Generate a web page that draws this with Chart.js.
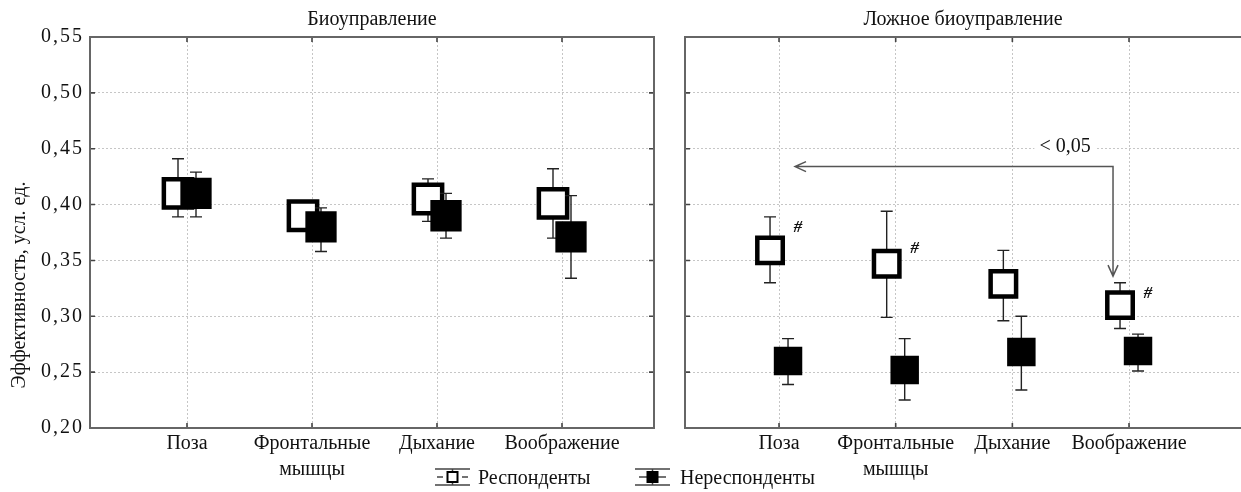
<!DOCTYPE html>
<html><head><meta charset="utf-8">
<script src="https://cdn.jsdelivr.net/npm/chart.js@4/dist/chart.umd.min.js"></script>
<style>
html,body{margin:0;padding:0;background:#fff;overflow:hidden;width:1241px;height:492px;}
canvas{position:absolute;left:0;top:0;}
</style></head><body>
<canvas id="bio" width="1260" height="492"></canvas>
<canvas id="sham" width="1260" height="492"></canvas>
<script>
// ---------- data ----------
const categories = [['Поза'], ['Фронтальные', 'мышцы'], ['Дыхание'], ['Воображение']];
const panelTitles = ['Биоуправление', 'Ложное биоуправление'];
const yAxisTitle = 'Эффективность, усл. ед.';
const seriesNames = ['Респонденты', 'Нереспонденты'];
const yTickValues = [0.20, 0.25, 0.30, 0.35, 0.40, 0.45, 0.50, 0.55];
const yTickLabels = ['0,20', '0,25', '0,30', '0,35', '0,40', '0,45', '0,50', '0,55'];

// Биоуправление
const bioResp     = [0.410, 0.390, 0.405, 0.401];
const bioRespLow  = [0.389, 0.380, 0.385, 0.370];
const bioRespHigh = [0.441, 0.400, 0.423, 0.432];
const bioNon      = [0.410, 0.380, 0.390, 0.371];
const bioNonLow   = [0.389, 0.358, 0.370, 0.334];
const bioNonHigh  = [0.429, 0.397, 0.410, 0.408];

// Ложное биоуправление
const shamResp     = [0.359, 0.347, 0.329, 0.310];
const shamRespLow  = [0.330, 0.299, 0.296, 0.289];
const shamRespHigh = [0.389, 0.394, 0.359, 0.330];
const shamNon      = [0.260, 0.252, 0.268, 0.269];
const shamNonLow   = [0.239, 0.225, 0.234, 0.251];
const shamNonHigh  = [0.280, 0.280, 0.300, 0.284];

// annotations (right panel)
const hashMark = '#';
const hashLevels = [0.379, 0.361, null, 0.320];
const sigLabel = '< 0,05';
const sigFrom = 0, sigTo = 3;
const sigLevel = 0.434, sigTipLevel = 0.336, sigLabelLevel = 0.452;

// ---------- drawing ----------
const FONT = 'Liberation Serif';
const W = 1260, H = 492;

function makeChart(id, cfg) {
  const idx = categories.map((_, i) => i + 1);
  const areaL = cfg.areaLeft, areaR = cfg.areaRight;
  const shift = 9 * (cfg.xMax - cfg.xMin) / (areaR - areaL);
  const errs = [[cfg.respLow, cfg.respHigh], [cfg.nonLow, cfg.nonHigh]];

  const panelPlugin = {
    id: 'panel_' + id,
    beforeDatasetDraw(chart, args) {
      const ctx = chart.ctx, y = chart.scales.y;
      const [lo, hi] = errs[args.index];
      ctx.save();
      ctx.strokeStyle = '#222';
      ctx.lineWidth = 1.4;
      args.meta.data.forEach((pt, i) => {
        const yl = y.getPixelForValue(lo[i]), yh = y.getPixelForValue(hi[i]);
        ctx.beginPath();
        ctx.moveTo(pt.x, yl); ctx.lineTo(pt.x, yh);
        ctx.moveTo(pt.x - 6, yl); ctx.lineTo(pt.x + 6, yl);
        ctx.moveTo(pt.x - 6, yh); ctx.lineTo(pt.x + 6, yh);
        ctx.stroke();
      });
      ctx.restore();
    },
    afterDraw(chart) {
      const ctx = chart.ctx, a = chart.chartArea, x = chart.scales.x, y = chart.scales.y;
      ctx.save();
      // inner tick marks
      ctx.strokeStyle = '#444'; ctx.lineWidth = 1.6;
      ctx.beginPath();
      yTickValues.forEach(v => {
        const py = y.getPixelForValue(v);
        ctx.moveTo(a.left, py); ctx.lineTo(a.left + 5, py);
        ctx.moveTo(a.right, py); ctx.lineTo(a.right - 5, py);
      });
      idx.forEach(v => {
        const px = x.getPixelForValue(v);
        ctx.moveTo(px, a.top); ctx.lineTo(px, a.top + 5);
        ctx.moveTo(px, a.bottom); ctx.lineTo(px, a.bottom - 5);
      });
      ctx.stroke();
      // frame
      ctx.strokeStyle = '#666'; ctx.lineWidth = 2;
      ctx.strokeRect(a.left, a.top, a.right - a.left, a.bottom - a.top);
      // y tick labels (wide tracking like the original)
      ctx.fillStyle = '#111';
      if (cfg.showY) {
        ctx.font = '20px "' + FONT + '"';
        ctx.textAlign = 'right'; ctx.textBaseline = 'middle';
        try { ctx.letterSpacing = '2px'; } catch (e) {}
        yTickValues.forEach((v, i) => {
          ctx.fillText(yTickLabels[i], a.left - 6, y.getPixelForValue(v));
        });
        try { ctx.letterSpacing = '0px'; } catch (e) {}
      }
      // panel title
      ctx.font = '20px "' + FONT + '"';
      ctx.textAlign = 'center'; ctx.textBaseline = 'middle';
      ctx.fillText(cfg.title, (a.left + Math.min(a.right, 1241)) / 2, 20);
      if (cfg.yTitle) {
        ctx.save();
        ctx.translate(20, 285);
        ctx.rotate(-Math.PI / 2);
        ctx.fillText(cfg.yTitle, 0, 0);
        ctx.restore();
      }
      if (cfg.annotate) {
        const respMeta = chart.getDatasetMeta(0);
        // '#' marks
        ctx.font = 'italic bold 17px "' + FONT + '"';
        hashLevels.forEach((lv, i) => {
          if (lv === null) return;
          ctx.fillText(hashMark, respMeta.data[i].x + 28, y.getPixelForValue(lv));
        });
        // significance arrow
        const yA = y.getPixelForValue(sigLevel);
        const yT = y.getPixelForValue(sigTipLevel);
        const xL = x.getPixelForValue(sigFrom + 1) + 16;
        const xR = x.getPixelForValue(sigTo + 1) - 16;
        ctx.strokeStyle = '#555'; ctx.lineWidth = 1.5;
        ctx.beginPath();
        ctx.moveTo(xL, yA); ctx.lineTo(xR, yA); ctx.lineTo(xR, yT);
        ctx.moveTo(xL + 11, yA - 5); ctx.lineTo(xL, yA); ctx.lineTo(xL + 11, yA + 5);
        ctx.moveTo(xR - 5, yT - 11); ctx.lineTo(xR, yT); ctx.lineTo(xR + 5, yT - 11);
        ctx.stroke();
        // label with white background
        ctx.font = '20px "' + FONT + '"';
        const lx = xR - 48, ly = y.getPixelForValue(sigLabelLevel);
        const tw = ctx.measureText(sigLabel).width;
        ctx.fillStyle = '#fff';
        ctx.fillRect(lx - tw / 2 - 5, ly - 10, tw + 10, 20);
        ctx.fillStyle = '#111';
        ctx.fillText(sigLabel, lx, ly);
      }
      if (cfg.legend) {
        ctx.strokeStyle = '#444'; ctx.lineWidth = 1.5; ctx.fillStyle = '#000';
        // Респонденты icon
        let x0 = 435, yc = 477;
        ctx.beginPath();
        ctx.moveTo(x0, yc - 8); ctx.lineTo(x0 + 35, yc - 8);
        ctx.moveTo(x0, yc + 8); ctx.lineTo(x0 + 35, yc + 8);
        ctx.moveTo(x0 + 17.5, yc - 8); ctx.lineTo(x0 + 17.5, yc + 8);
        ctx.moveTo(x0 + 2, yc); ctx.lineTo(x0 + 8, yc);
        ctx.moveTo(x0 + 27, yc); ctx.lineTo(x0 + 33, yc);
        ctx.stroke();
        ctx.fillStyle = '#fff';
        ctx.fillRect(x0 + 12.5, yc - 5, 10, 10);
        ctx.strokeStyle = '#000'; ctx.lineWidth = 2;
        ctx.strokeRect(x0 + 12.5, yc - 5, 10, 10);
        // Нереспонденты icon
        x0 = 635;
        ctx.strokeStyle = '#444'; ctx.lineWidth = 1.5;
        ctx.beginPath();
        ctx.moveTo(x0, yc - 8); ctx.lineTo(x0 + 35, yc - 8);
        ctx.moveTo(x0, yc + 8); ctx.lineTo(x0 + 35, yc + 8);
        ctx.moveTo(x0 + 17.5, yc - 8); ctx.lineTo(x0 + 17.5, yc + 8);
        ctx.moveTo(x0 + 4, yc); ctx.lineTo(x0 + 31, yc);
        ctx.stroke();
        ctx.fillStyle = '#000';
        ctx.fillRect(x0 + 11.5, yc - 6, 12, 12);
        // texts
        ctx.fillStyle = '#111';
        ctx.font = '20px "' + FONT + '"';
        ctx.textAlign = 'left';
        ctx.fillText(seriesNames[0], 478, 479);
        ctx.fillText(seriesNames[1], 680, 479);
      }
      ctx.restore();
    }
  };

  const gridCommon = { color: '#c6c6c6', lineWidth: 1, drawTicks: false };
  const borderCommon = { display: false, dash: [2, 2] };

  return new Chart(document.getElementById(id), {
    type: 'scatter',
    data: {
      datasets: [
        {
          label: seriesNames[0],
          data: idx.map((v, i) => ({ x: v - shift, y: cfg.resp[i] })),
          pointStyle: 'rect', pointRadius: cfg.radius,
          pointBackgroundColor: '#fff', pointBorderColor: '#000', pointBorderWidth: 4.5,
          showLine: false, order: 1
        },
        {
          label: seriesNames[1],
          data: idx.map((v, i) => ({ x: v + shift, y: cfg.non[i] })),
          pointStyle: 'rect', pointRadius: cfg.radius,
          pointBackgroundColor: '#000', pointBorderColor: '#000', pointBorderWidth: 3,
          showLine: false, order: 0
        }
      ]
    },
    options: {
      responsive: false, animation: false, events: [],
      layout: { autoPadding: false, padding: { left: cfg.padLeft, right: cfg.padRight, top: 37, bottom: 0 } },
      plugins: { legend: { display: false }, tooltip: { enabled: false }, title: { display: false } },
      scales: {
        x: {
          type: 'linear', min: cfg.xMin, max: cfg.xMax,
          afterBuildTicks: ax => { ax.ticks = idx.map(v => ({ value: v })); },
          afterFit: ax => { ax.height = 64; ax.paddingLeft = 0; ax.paddingRight = 0; },
          grid: gridCommon, border: borderCommon,
          ticks: {
            padding: 3, color: '#111', autoSkip: false, maxRotation: 0, minRotation: 0,
            font: { family: FONT, size: 20, lineHeight: 1.3 },
            callback: (v, i) => categories[i]
          }
        },
        y: {
          type: 'linear', min: yTickValues[0], max: yTickValues[yTickValues.length - 1],
          afterBuildTicks: ax => { ax.ticks = yTickValues.map(v => ({ value: v })); },
          afterFit: ax => { ax.width = cfg.yWidth; ax.paddingTop = 0; ax.paddingBottom = 0; },
          grid: gridCommon, border: borderCommon,
          ticks: { display: false }
        }
      }
    },
    plugins: [panelPlugin]
  });
}

makeChart('bio', {
  title: panelTitles[0], yTitle: yAxisTitle,
  resp: bioResp, respLow: bioRespLow, respHigh: bioRespHigh,
  non: bioNon, nonLow: bioNonLow, nonHigh: bioNonHigh,
  areaLeft: 90, areaRight: 654, padLeft: 0, padRight: W - 654, yWidth: 90, showY: true,
  xMin: 0.224, xMax: 4.736, radius: 20, annotate: false, legend: false
});
makeChart('sham', {
  title: panelTitles[1], yTitle: null,
  resp: shamResp, respLow: shamRespLow, respHigh: shamRespHigh,
  non: shamNon, nonLow: shamNonLow, nonHigh: shamNonHigh,
  areaLeft: 685, areaRight: 1250, padLeft: 685, padRight: W - 1250, yWidth: 0, showY: false,
  xMin: 0.194, xMax: 5.037, radius: 18, annotate: true, legend: true
});
</script>
</body></html>
